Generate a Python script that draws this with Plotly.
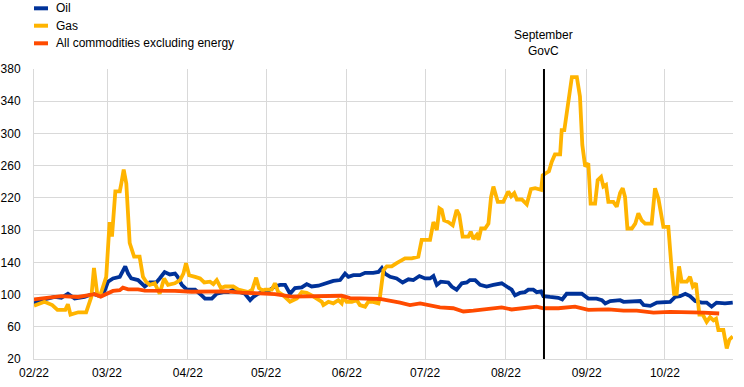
import plotly.graph_objects as go
import pandas as pd

BASE = pd.Timestamp("2022-02-01")

# ---- data (day offsets from 1 Feb 2022, index values) ----
gas_day = [0, 4, 7, 9, 12, 13, 14, 17, 20, 22, 23, 24.2, 25.2, 26.5, 27.7, 29, 29.9, 31.2, 32.9, 33.5,
           34.4, 35.4, 36.7, 38.4, 40.5, 41.8, 43, 44.4, 46.3, 48.2, 49.9, 51.4, 54, 56, 57.3, 58.3,
           59.5, 61.8, 63.7, 65.3, 67.5, 68.8, 70.1, 71.7, 73.3, 76.4, 78.4, 82.2, 83.7, 85.2, 86.3,
           87.6, 88.6, 91.2, 92.4, 93.7, 95.6, 98.2, 100.8, 102.7, 104.6, 106.5, 108.4, 110.4, 111,
           112.9, 114.8, 116.7, 118, 118.6, 119.9, 121.9, 123.8, 125, 127, 128.2, 130.1, 132.1, 132.7,
           134, 135.3, 137.2, 139.1, 141, 142.3, 144.9, 147.4, 148.7, 150.6, 151.9, 153.2, 154.5,
           155.5, 156.4, 157.3, 158.9, 160.6, 162.1, 163.1, 164.4, 166.6, 167.5, 168.5, 169.8, 170.5,
           171.5, 173, 174.3, 175.3, 176.2, 177.9, 180, 181.9, 183, 184.2, 185.2, 187.1, 189, 190.6,
           192.2, 194.5, 195.1, 196, 197.5, 198.6, 199.8, 201.8, 202.4, 203.4, 204.3, 205.3, 206.3,
           208.2, 209.4, 210.3, 211.4, 212.6, 213.5, 215.2, 216.2, 217.5, 218.4, 219.4, 220.3, 222.2,
           223.5, 224.8, 225.8, 226.7, 227.6, 229.3, 230.6, 231.8, 233.1, 234.4, 236.9, 238.2, 239.5,
           241.4, 243.3, 244.6, 245.5, 246.5, 247.4, 248.4, 250.4, 251.6, 252.7, 253.9, 255.2, 256.5,
           258, 259.3, 260.6, 261.6, 262.5, 264.4, 265.7, 266.7, 268]
gas_val = [86, 91, 87, 81, 81, 88, 75, 78, 78, 97, 133, 102, 97, 110, 122, 190, 172, 228, 228, 238,
           255, 238, 164, 147, 147, 122, 116, 112, 114, 101, 120, 112, 114, 118, 126, 139,
           124, 122, 120, 115, 116, 113, 118, 108, 110, 110, 106, 103, 106, 121, 108,
           105, 106, 106, 114, 103, 99, 91, 95, 103, 102, 99, 95, 91, 87,
           91, 89, 93, 89, 97, 91, 91, 93, 87, 85, 91, 91, 89, 97,
           130, 135, 135, 139, 143, 145, 145, 147, 168, 168, 168, 190, 180,
           207, 205, 192, 190, 186, 205, 199, 172, 172, 178, 169, 174, 168,
           182, 182, 188, 221, 234, 215, 215, 228, 222, 226, 218, 218, 212, 231,
           232, 230, 248, 250, 253, 265, 274, 274, 304, 304, 325, 346, 370,
           370, 346, 286, 259, 263, 213, 213, 242, 246, 234, 236, 215, 215,
           209, 226, 232, 221, 182, 182, 188, 201, 192, 188, 188, 232, 219,
           184, 184, 130, 101, 101, 135, 116, 116, 122, 110, 114, 75, 75,
           66, 72, 68, 70, 56, 56, 33, 44, 48]

oil_day = [0, 2.8, 7.9, 10.5, 13, 15.6, 19.4, 22.6, 25.2, 26.9, 28.4, 30.3, 32.9, 35, 36.1, 37.3,
           39.9, 42.5, 44.4, 46.9, 48.2, 50.1, 52.1, 54.1, 55.1, 56.7, 58.6, 61.8, 64.3, 65.6, 68.2,
           70.1, 72.6, 74.5, 76.4, 79, 80.9, 82.9, 84.1, 86, 88, 90.5, 92.4, 94.4, 96.3, 98.2, 100.1,
           102.7, 104.6, 106.5, 109.1, 112.3, 114.8, 117.4, 119.3, 120.6, 122.5, 125, 127, 130.1,
           132.1, 133.4, 134.6, 136.6, 139.1, 141.4, 143.6, 145.5, 147.8, 150, 151.9, 153.2, 154.5,
           156, 158.9, 160.2, 162.1, 164.1, 166, 167.2, 169.2, 171.1, 173.6, 176.2, 179.4, 181.3,
           183.2, 184.5, 186.4, 188.3, 189.6, 191.5, 192.8, 194.5, 195.4, 197.9, 201.1, 202.6, 204.3,
           206.3, 210.1, 212.6, 215.8, 217.8, 219.1, 221, 223.5, 224.8, 226.1, 228.7, 232.5, 233.8,
           236.4, 238.9, 241.4, 244, 245.9, 247.8, 249.8, 251.6, 253.6, 256.1, 258, 259.9, 261.8,
           265, 268]
oil_val = [89, 93, 97, 96, 101, 95, 97, 101, 98, 103, 116, 120, 122, 135, 126, 120,
           118, 110, 115, 115, 120, 128, 125, 126, 122, 112, 106, 106, 99, 95, 95,
           101, 103, 103, 106, 103, 101, 93, 97, 101, 103, 106, 110, 112, 112, 101, 108,
           109, 113, 110, 111, 114, 117, 118, 126, 122, 124, 124, 127, 127,
           128, 133, 126, 122, 120, 115, 119, 118, 123, 120, 120, 123, 112,
           116, 115, 110, 106, 114, 115, 118, 118, 112, 110, 112, 114, 110,
           106, 99, 102, 103, 106, 106, 103, 104, 98, 97, 96, 94, 101,
           101, 101, 95, 95, 93, 89, 92, 93, 93, 91, 91, 92, 87,
           86, 90, 91, 91, 97, 98, 101, 98, 92, 90, 90, 85, 90,
           89, 90]

com_day = [0, 5.4, 10.5, 16.9, 20.7, 23.3, 25.6, 27.7, 30.3, 32.9, 34.1, 36.1, 39.9, 42.5, 48.8,
           54.1, 60.5, 66.9, 73.3, 79.7, 86, 92.4, 98.8, 105.2, 111.6, 118, 121.2, 128.9, 132.7,
           140.4, 144.2, 148.1, 151.9, 155.7, 160.8, 164.7, 168.5, 170.8, 174.3, 179.4, 183.2,
           188.3, 192.8, 195.4, 201.1, 207.5, 212.6, 220.3, 226.1, 231.2, 237.6, 244, 250.4,
           256.7, 262.8]
com_val = [94, 96.5, 98, 97, 98.5, 100.5, 97.5, 100.5, 104.5, 105.5, 108.5, 106.5, 106.5, 105, 105,
           104.5, 103.5, 103.5, 104, 102.5, 101.5, 100.5, 97.5, 98, 97.5, 98.5, 95.5, 95.5, 94.5,
           90, 87, 89, 86, 84, 83, 79, 80, 81, 81.5, 84, 81.5,
           83, 85, 83, 83, 85, 81, 81.5, 80, 80, 77.5, 78.5, 78.5,
           77.5, 76.5]

govc_day = 195.6
y_ticks = [20, 60, 100, 140, 180, 220, 260, 300, 340, 380]

names = ["Oil", "Gas", "All commodities excluding energy"]
colors = ["#003299", "#FFB400", "#FF4B00"]


def to_dates(days):
    return [BASE + pd.Timedelta(days=d) for d in days]


FONT = "Arial, Liberation Sans, sans-serif"
fig = go.Figure()
for d, v, n, c in [(oil_day, oil_val, names[0], colors[0]),
                   (gas_day, gas_val, names[1], colors[1]),
                   (com_day, com_val, names[2], colors[2])]:
    fig.add_trace(go.Scatter(x=to_dates(d), y=v, mode="lines", name=n,
                             line=dict(color=c, width=3.8), showlegend=False))

govc_x = BASE + pd.Timedelta(days=govc_day)
fig.add_shape(type="line", x0=govc_x, x1=govc_x, xref="x", yref="paper", y0=0, y1=1,
              line=dict(color="black", width=2))
fig.add_annotation(x=govc_x, xref="x", y=1.0897, yref="paper", text="September<br>GovC",
                   showarrow=False, yanchor="middle", xanchor="center",
                   font=dict(family=FONT, size=12, color="black"))

# custom legend
leg_y = [1.2093, 1.1493, 1.0886]
for n, c, yy in zip(names, colors, leg_y):
    fig.add_shape(type="line", xref="paper", yref="paper", x0=0.0, x1=0.02, y0=yy, y1=yy,
                  line=dict(color=c, width=4))
    fig.add_annotation(xref="paper", yref="paper", x=0.029, y=yy, text=n, showarrow=False,
                       xanchor="left", yanchor="middle",
                       font=dict(family=FONT, size=12, color="black"))

fig.update_layout(
    width=744, height=387,
    margin=dict(l=34, r=11, t=69, b=28, pad=0, autoexpand=False),
    plot_bgcolor="white", paper_bgcolor="white",
    font=dict(family=FONT, size=12, color="black"),
    showlegend=False,
)
fig.update_xaxes(type="date", range=[BASE, BASE + pd.Timedelta(days=268.1)],
                 dtick="M1", tick0="2022-02-01", tickformat="%m/%y",
                 showgrid=True, gridcolor="#d9d9d9", gridwidth=1,
                 showline=True, linecolor="#d9d9d9", linewidth=1, automargin=False,
                 ticks="", ticklabelstandoff=3, zeroline=False,
                 tickfont=dict(family=FONT, size=12, color="black"))
fig.update_yaxes(range=[20, 380], tickvals=y_ticks, showgrid=True, gridcolor="#d9d9d9",
                 gridwidth=1, showline=True, linecolor="#d9d9d9", linewidth=1, automargin=False,
                 ticks="", ticklabelstandoff=10, zeroline=False,
                 tickfont=dict(family=FONT, size=12, color="black"))

fig.write_html("out.html", config={"displayModeBar": False},
               post_script="document.body.style.margin='0';document.body.style.overflow='hidden';")
